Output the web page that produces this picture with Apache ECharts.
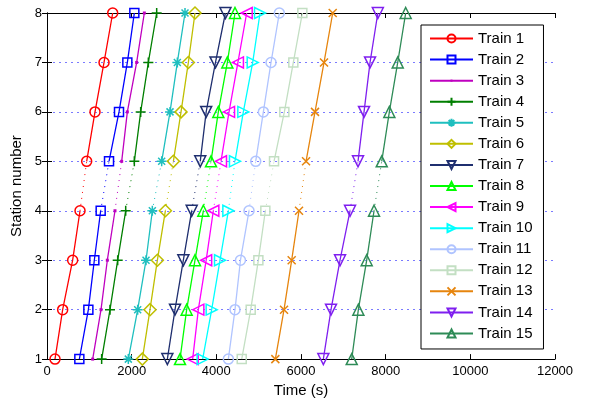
<!DOCTYPE html>
<html><head><meta charset="utf-8">
<script src="https://cdn.jsdelivr.net/npm/echarts@6/dist/echarts.min.js"></script>
<style>html,body{margin:0;padding:0;background:#fff}#c{width:591px;height:403px}</style>
</head><body><div id="c"></div>
<script>
// ---- data ----
const stations = [1, 2, 3, 4, 5, 6, 7, 8];
const xTicks = [0, 2000, 4000, 6000, 8000, 10000, 12000];
const trainNames = ['Train 1','Train 2','Train 3','Train 4','Train 5','Train 6','Train 7','Train 8','Train 9','Train 10','Train 11','Train 12','Train 13','Train 14','Train 15'];
// time (s) at stations 1..8
const train1  = [189, 370, 606, 780, 937, 1134, 1347, 1552];
const train2  = [764, 977, 1118, 1268, 1465, 1701, 1898, 2063];
const train3  = [1079, 1276, 1425, 1606, 1764, 1898, 2118, 2299];
const train4  = [1291, 1488, 1670, 1859, 2063, 2213, 2394, 2591];
const train5  = [1921, 2142, 2339, 2488, 2709, 2906, 3079, 3260];
const train6  = [2252, 2433, 2607, 2796, 2985, 3166, 3339, 3496];
const train7  = [2843, 3024, 3221, 3418, 3620, 3760, 3980, 4215];
const train8  = [3142, 3299, 3496, 3693, 3874, 4047, 4260, 4441];
const train9  = [3441, 3575, 3760, 3929, 4110, 4300, 4510, 4717];
const train10 = [3677, 3890, 4087, 4284, 4440, 4638, 4859, 5032];
const train11 = [4284, 4441, 4570, 4772, 4930, 5111, 5292, 5488];
const train12 = [4600, 4812, 4993, 5158, 5363, 5607, 5819, 6032];
const train13 = [5394, 5599, 5780, 5953, 6119, 6331, 6544, 6749];
const train14 = [6528, 6709, 6922, 7158, 7347, 7489, 7631, 7815];
const train15 = [7198, 7355, 7552, 7725, 7907, 8087, 8285, 8473];
const trains = [train1, train2, train3, train4, train5, train6, train7, train8, train9, train10, train11, train12, train13, train14, train15];

// ---- styles ----
const colors = ['#ff0000','#0000ff','#bf00bf','#007f00','#1fbfbf','#bfbf00','#1f2f6f','#00ff00','#ff00ff','#00ffff','#b0c4ff','#c3dfc3','#e6850e','#7f1fef','#2e8b57'];
const DOWN = 'path://M0,0L10,0L5,9Z', UP = 'path://M5,0L10,9L0,9Z', LEFT = 'path://M9,0L9,10L0,5Z', RIGHT = 'path://M0,0L0,10L9,5Z';
const PLUS = 'path://M5,0L5,10M0,5L10,5', STAR = 'path://M5,0L5,10M0,5L10,5M1.5,1.5L8.5,8.5M8.5,1.5L1.5,8.5', XS = 'path://M0,0L10,10M10,0L0,10';
const DOT = 'path://M0,0M12,12M4.5,4.5L7.5,4.5L7.5,7.5L4.5,7.5Z';
const symbols = [
  {s:'circle', size:10}, {s:'rect', size:9}, {s:DOT, size:12, fill:true}, {s:PLUS, size:10},
  {s:STAR, size:10}, {s:'diamond', size:12}, {s:DOWN, size:11}, {s:UP, size:11},
  {s:LEFT, size:11}, {s:RIGHT, size:11}, {s:'circle', size:10}, {s:'rect', size:9},
  {s:XS, size:8}, {s:DOWN, size:11}, {s:UP, size:11}
];
const F = '"Liberation Sans", Arial, Helvetica, sans-serif';

const series = [];
trains.forEach((t, i) => {
  const c = colors[i], sym = symbols[i];
  const base = {
    name: trainNames[i], type: 'line', symbol: sym.s, symbolSize: sym.size,
    lineStyle: {color: c, width: 1.3},
    itemStyle: sym.fill ? {color: c} : {color: 'rgba(255,255,255,0)', borderColor: c, borderWidth: 1.5},
    emphasis: {disabled: true}, silent: true, z: 3, animation: false
  };
  series.push(Object.assign({}, base, {data: stations.slice(0, 4).map((s, k) => [t[k], s])}));
  series.push(Object.assign({}, base, {data: stations.slice(4).map((s, k) => [t[k + 4], s])}));
  series.push({
    name: trainNames[i], type: 'line', symbol: 'none', silent: true, z: 2, animation: false,
    emphasis: {disabled: true},
    lineStyle: {color: c, width: 1, type: [1, 5]},
    data: [[t[3], stations[3]], [t[4], stations[4]]]
  });
});

const axisCommon = {
  axisLine: {show: true, lineStyle: {color: '#000', width: 1}},
  axisTick: {show: true, inside: true, length: 5, lineStyle: {color: '#000'}},
};

const chart = echarts.init(document.getElementById('c'), null, {renderer: 'canvas'});
chart.setOption({
  animation: false,
  backgroundColor: '#fff',
  grid: {left: 47, right: 36, top: 13, bottom: 43, containLabel: false},
  legend: {
    orient: 'vertical', left: 421, top: 25,
    data: trainNames,
    itemWidth: 43, itemHeight: 10, itemGap: 6.07,
    padding: [6, 11, 8, 8],
    borderColor: '#000', borderWidth: 1, backgroundColor: '#fff',
    textStyle: {fontFamily: F, fontSize: 15, color: '#000', lineHeight: 15},
    selectedMode: false
  },
  xAxis: [
    Object.assign({}, axisCommon, {
      type: 'value', min: xTicks[0], max: xTicks[xTicks.length - 1], interval: xTicks[1] - xTicks[0],
      position: 'bottom',
      axisLabel: {fontFamily: F, fontSize: 13, color: '#000', margin: 6, formatter: v => String(v)},
      splitLine: {show: false},
      name: 'Time (s)', nameLocation: 'middle', nameGap: 22,
      nameTextStyle: {fontFamily: F, fontSize: 15, color: '#000'}
    }),
    Object.assign({}, axisCommon, {
      type: 'value', min: xTicks[0], max: xTicks[xTicks.length - 1], interval: xTicks[1] - xTicks[0],
      position: 'top', axisLabel: {show: false}, splitLine: {show: false}
    })
  ],
  yAxis: [
    Object.assign({}, axisCommon, {
      type: 'value', min: stations[0], max: stations[stations.length - 1], interval: 1,
      position: 'left',
      axisLabel: {fontFamily: F, fontSize: 13, color: '#000', margin: 5},
      splitLine: {show: true, lineStyle: {color: '#7a7aff', width: 1, type: [2, 4]}},
      name: 'Station number', nameLocation: 'middle', nameGap: 21,
      nameTextStyle: {fontFamily: F, fontSize: 15, color: '#000'}
    }),
    Object.assign({}, axisCommon, {
      type: 'value', min: stations[0], max: stations[stations.length - 1], interval: 1,
      position: 'right', axisLabel: {show: false}, splitLine: {show: false}
    })
  ],
  series: series
});
</script></body></html>
